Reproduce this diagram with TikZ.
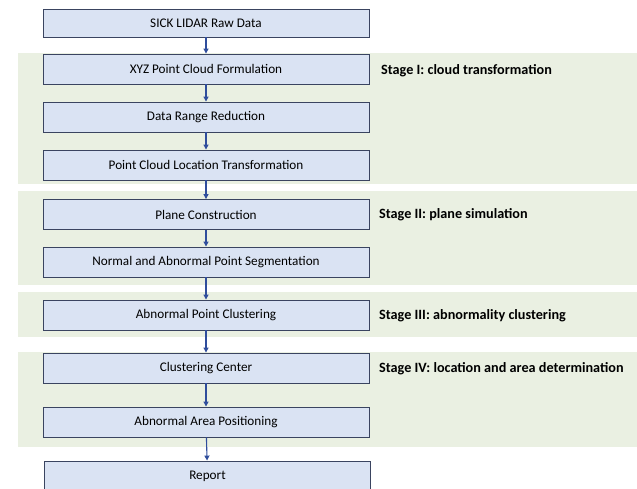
\documentclass[tikz,border=0pt]{standalone}
\usepackage{fontspec}
\setmainfont{Carlito}
\usetikzlibrary{arrows.meta}
\definecolor{boxfill}{HTML}{DAE3F3}
\definecolor{boxline}{HTML}{3A4460}
\definecolor{flowblue}{HTML}{2F4D9C}
\definecolor{bandgreen}{HTML}{EAF0E2}
\tikzstyle{stepbox} = [draw=boxline, fill=boxfill, line width=0.9pt, minimum width=326pt, minimum height=30pt, inner sep=0pt, font=\fontsize{13.2}{15}\selectfont]
\tikzstyle{stage} = [right, inner sep=0pt, font=\fontsize{14.2}{16}\selectfont\bfseries]
\tikzstyle{flow} = [-{Triangle[length=5pt,width=5pt]}, draw=flowblue, line width=1.1pt]

\begin{document}
\begin{tikzpicture}[x=1pt,y=-1pt]
    \useasboundingbox (0,0) rectangle (637,488);
    \fill [white] (0,0) rectangle (637,488);
    % stage bands
    \fill [bandgreen] (18,53) rectangle (640,184);
    \fill [bandgreen] (18,191) rectangle (640,285);
    \fill [bandgreen] (18,292) rectangle (640,337);
    \fill [bandgreen] (18,352) rectangle (640,447);
    % steps
    \node[stepbox, minimum height=28pt] (raw) at (206,23) {SICK LIDAR Raw Data};
    \node[stepbox] (xyz) at (206,69) {XYZ Point Cloud Formulation};
    \node[stepbox] (range) at (206,117) {Data Range Reduction};
    \node[stepbox] (loc) at (206,165) {Point Cloud Location Transformation};
    \node[stepbox] (plane) at (206,214.5) {Plane Construction};
    \node[stepbox] (seg) at (206,262) {Normal and Abnormal Point Segmentation};
    \node[stepbox] (clust) at (206,315) {Abnormal Point Clustering};
    \node[stepbox] (center) at (206,368) {Clustering Center};
    \node[stepbox] (area) at (206,422) {Abnormal Area Positioning};
    \node[stepbox] (report) at (207.5,476) {Report};
    % stage labels
    \node[stage] (s1) at (381,71) {Stage I: cloud transformation};
    \node[stage] (s2) at (379,215) {Stage II: plane simulation};
    \node[stage] (s3) at (379,316) {Stage III: abnormality clustering};
    \node[stage] (s4) at (379,369) {Stage IV: location and area determination};
    % flow
    \draw [flow] (raw) -- (xyz);
    \draw [flow] (xyz) -- (range);
    \draw [flow] (range) -- (loc);
    \draw [flow] (loc) -- (plane);
    \draw [flow] (plane) -- (seg);
    \draw [flow] (seg) -- (clust);
    \draw [flow] (clust) -- (center);
    \draw [flow] (center) -- (area);
    \draw [flow] (area) -- (report);
\end{tikzpicture}
\end{document}
